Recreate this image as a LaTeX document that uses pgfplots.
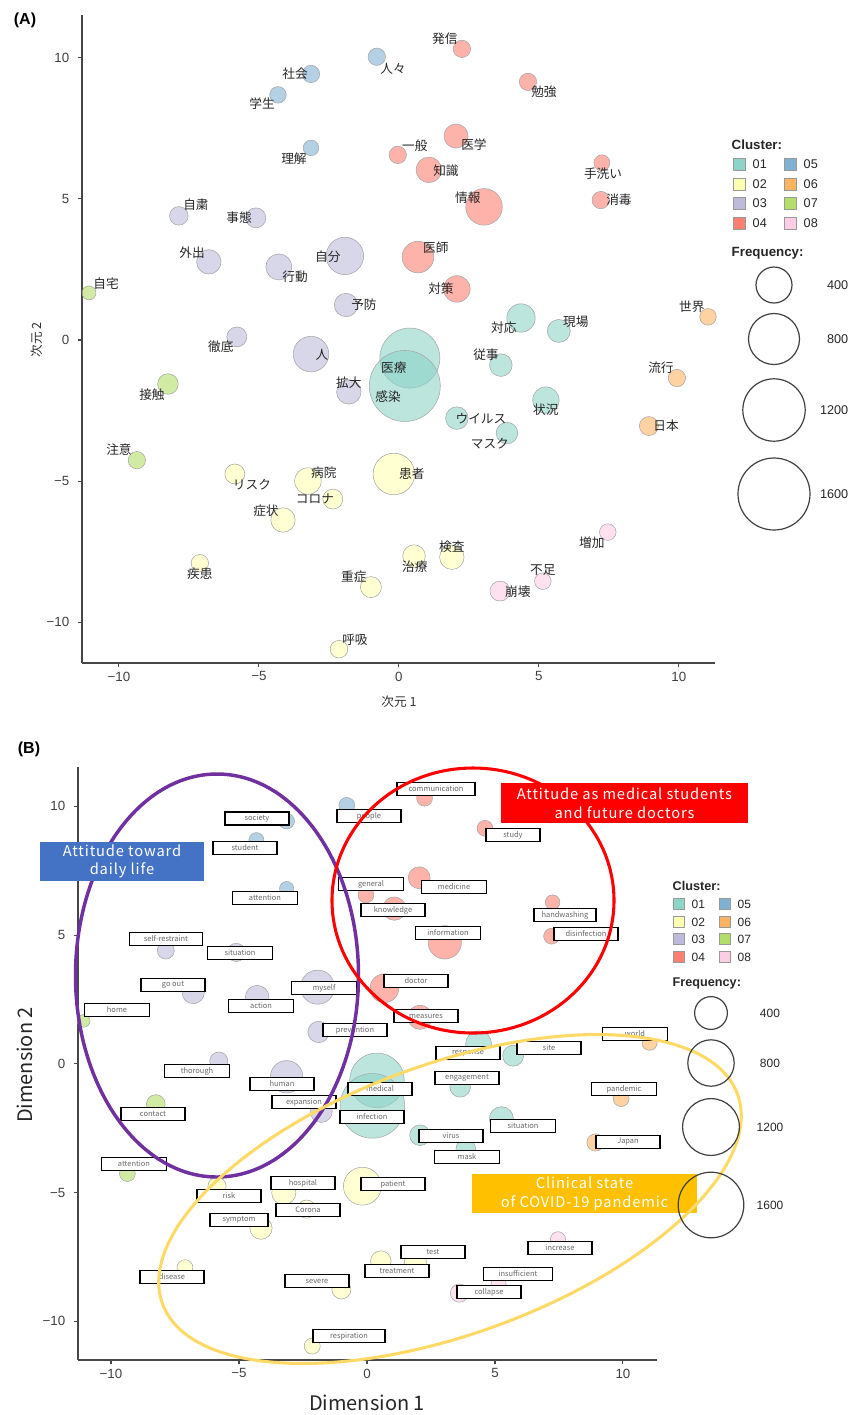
\documentclass[border=0pt]{standalone}
\usepackage{pgfplots}
\pgfplotsset{compat=1.18}
\usepackage{pgfplotstable}
\usepackage{fontspec}
\setmainfont{Liberation Sans}
\newfontfamily\jp{Noto Sans CJK JP}
\newfontfamily\jpw[LetterSpace=6]{Noto Sans CJK JP}
\definecolor{c1}{HTML}{8DD3C7}
\definecolor{c2}{HTML}{FFFFB3}
\definecolor{c3}{HTML}{BEBADA}
\definecolor{c4}{HTML}{FB8072}
\definecolor{c5}{HTML}{80B1D3}
\definecolor{c6}{HTML}{FDB462}
\definecolor{c7}{HTML}{B3DE69}
\definecolor{c8}{HTML}{FCCDE5}
\definecolor{epurple}{HTML}{7030A0}
\definecolor{eyellow}{HTML}{FFD966}
\definecolor{bblue}{HTML}{4472C4}
\definecolor{bgold}{HTML}{FFC000}

% cluster tables: x y frequency
\pgfplotstableread{
x y f
0.39 -0.64 1111
0.21 -1.63 1556
4.36 0.78 249
5.71 0.32 163
3.64 -0.89 158
5.25 -2.13 215
2.07 -2.77 158
3.86 -3.30 144
}\clusterA
\pgfplotstableread{
x y f
-5.86 -4.75 123
-3.25 -5.00 218
-2.36 -5.64 123
-4.14 -6.38 184
-0.18 -4.75 534
-7.11 -7.91 93
0.54 -7.66 158
-1.00 -8.76 136
-2.14 -10.96 96
1.89 -7.70 184
}\clusterB
\pgfplotstableread{
x y f
-7.86 4.40 107
-5.11 4.33 123
-6.79 2.77 184
-4.29 2.59 209
-1.93 2.98 432
-1.89 1.24 169
-5.79 0.11 123
-3.14 -0.50 391
-1.79 -1.84 184
}\clusterC
\pgfplotstableread{
x y f
2.25 10.32 93
4.61 9.15 93
2.04 7.23 178
-0.04 6.56 93
1.07 6.03 202
3.04 4.72 413
7.25 6.28 79
7.21 4.96 93
0.68 2.94 308
2.07 1.81 218
}\clusterD
\pgfplotstableread{
x y f
-0.79 10.04 93
-3.14 9.43 93
-4.32 8.69 85
-3.14 6.81 75
}\clusterE
\pgfplotstableread{
x y f
11.04 0.82 85
9.93 -1.35 93
8.93 -3.05 111
}\clusterF
\pgfplotstableread{
x y f
-11.07 1.67 60
-8.25 -1.56 131
-9.36 -4.26 93
}\clusterG
\pgfplotstableread{
x y f
7.46 -6.81 85
5.14 -8.55 85
3.61 -8.90 123
}\clusterH

\newcommand{\bubbles}[3]{%
  \addplot[scatter, only marks, mark=*,
    scatter/use mapped color={draw=black!35, fill=#2, fill opacity=0.6},
    visualization depends on={#3*sqrt(\thisrow{f}) \as \rad},
    scatter/@pre marker code/.append style={/tikz/mark size=\rad}]
    table {#1};}
\newcommand{\allbubbles}[1]{%
  \bubbles{\clusterA}{c1}{#1}
  \bubbles{\clusterB}{c2}{#1}
  \bubbles{\clusterC}{c3}{#1}
  \bubbles{\clusterD}{c4}{#1}
  \bubbles{\clusterE}{c5}{#1}
  \bubbles{\clusterF}{c6}{#1}
  \bubbles{\clusterG}{c7}{#1}
  \bubbles{\clusterH}{c8}{#1}}
\newcommand{\jl}[3]{\node[jl] at (axis cs:#1,#2) {#3};}
\newcommand{\wbox}[4]{\node[bx, minimum width=#3*0.75pt] at (#1,-#2) {#4};}

\pgfplotsset{myaxis/.style={
  scale only axis, clip=false,
  axis lines*=left,
  axis line style={draw=black!72, line width=1.4pt},
  xtick={-10,-5,0,5,10}, xticklabels={−10,−5,0,5,10},
  ytick={-10,-5,0,5,10}, yticklabels={−10,−5,0,5,10},
  tick align=outside, major tick length=3pt,
  tick style={draw=black!72, line width=0.8pt},
  tick label style={font=\fontsize{10}{12}\selectfont, text=black!75},
  yticklabel style={xshift=-3pt},
}}

\begin{document}
\begin{tikzpicture}[x=0.75pt,y=0.75pt,
  jl/.style={font=\jp\fontsize{9.5}{11}\selectfont, inner sep=0pt, text=black!85},
  bx/.style={draw=black, line width=0.9pt, fill=white, minimum height=9.8pt, inner sep=0pt,
     font=\jp\fontsize{5.6}{6}\selectfont, text=black!60}]

% ================= Panel A =================
\begin{axis}[myaxis, set layers,
  at={(61.5pt,-497.25pt)}, anchor=south west,
  width=474.75pt, height=486pt,
  xmin=-11.32, xmax=11.29, ymin=-11.45, ymax=11.52]
\allbubbles{0.675}
\begin{pgfonlayer}{axis foreground}
\jl{-0.21}{9.61}{人々}
\jl{-3.71}{9.43}{社会}
\jl{-4.89}{8.37}{学生}
\jl{-3.75}{6.42}{理解}
\jl{0.57}{6.88}{一般}
\jl{-7.25}{4.79}{自粛}
\jl{-5.71}{4.33}{事態}
\jl{-7.39}{3.09}{外出}
\jl{-2.54}{2.94}{自分}
\jl{-3.71}{2.23}{行動}
\jl{-1.25}{1.24}{予防}
\jl{-10.46}{1.99}{自宅}
\jl{-6.36}{-0.25}{徹底}
\jl{-2.75}{-0.53}{人}
\jl{-0.18}{-0.99}{医療}
\jl{-0.39}{-2.02}{感染}
\jl{-1.79}{-1.52}{拡大}
\jl{-8.82}{-1.95}{接触}
\jl{-10.0}{-3.90}{注意}
\jl{-5.25}{-5.14}{リスク}
\jl{-2.68}{-4.72}{病院}
\jl{-3.0}{-5.64}{コロナ}
\jl{-4.75}{-6.06}{症状}
\jl{0.46}{-4.75}{患者}
\jl{-7.11}{-8.30}{疾患}
\jl{0.57}{-8.05}{治療}
\jl{-1.61}{-8.40}{重症}
\jl{-1.57}{-10.64}{呼吸}
\jl{1.64}{10.67}{発信}
\jl{5.18}{8.79}{勉強}
\jl{2.68}{6.91}{医学}
\jl{1.68}{5.99}{知識}
\jl{2.46}{5.04}{情報}
\jl{7.29}{5.89}{手洗い}
\jl{7.86}{4.96}{消毒}
\jl{1.32}{3.26}{医師}
\jl{1.50}{1.81}{対策}
\jl{3.75}{0.43}{対応}
\jl{6.32}{0.64}{現場}
\jl{10.46}{1.17}{世界}
\jl{3.11}{-0.53}{従事}
\jl{5.25}{-2.48}{状況}
\jl{2.93}{-2.80}{ウイルス}
\jl{3.25}{-3.69}{マスク}
\jl{9.36}{-0.99}{流行}
\jl{9.54}{-3.05}{日本}
\jl{6.89}{-7.20}{増加}
\jl{1.89}{-7.34}{検査}
\jl{5.14}{-8.16}{不足}
\jl{4.25}{-8.94}{崩壊}
\end{pgfonlayer}
\end{axis}

% axis titles A
\node[font=\jp\fontsize{9.5}{11}\selectfont, text=black!80] at (399,-702) {次元 1};
\node[font=\jp\fontsize{9.5}{11}\selectfont, text=black!80, rotate=90] at (37,-340) {次元 2};
\node[font=\bfseries\fontsize{12}{14}\selectfont] at (25,-20) {(A)};

% legend A
\node[anchor=west, font=\bfseries\fontsize{10}{12}\selectfont, text=black!85] at (727,-145) {Cluster:};
\foreach \c/\lab/\xx/\yy in {c1/01/733/164, c2/02/733/184, c3/03/733/203, c4/04/733/223,
                             c5/05/784/164, c6/06/784/184, c7/07/784/203, c8/08/784/223}{
  \draw[fill=\c, draw=black!40, line width=0.6pt] (\xx,-\yy+6) rectangle (\xx+12,-\yy-6);
  \node[anchor=west, font=\fontsize{9.5}{11}\selectfont, text=black!85] at (\xx+15,-\yy) {\lab};
}
\node[anchor=west, font=\bfseries\fontsize{10}{12}\selectfont, text=black!85] at (727,-253) {Frequency:};
\foreach \r/\yy/\lab in {18/285/400, 25.5/339/800, 31.2/410/1200, 36/494/1600}{
  \draw[black!75, line width=0.9pt] (774,-\yy) circle (\r);
  \node[anchor=east, font=\fontsize{9.5}{11}\selectfont, text=black!85] at (853,-\yy) {\lab};
}

% ================= Panel B =================
\begin{axis}[myaxis,
  at={(58.5pt,-1020pt)}, anchor=south west,
  width=434.25pt, height=444.75pt,
  xmin=-11.29, xmax=11.33, ymin=-11.50, ymax=11.53]
\allbubbles{0.615}
\end{axis}

% word boxes
\wbox{257}{818.5}{64}{society}
\wbox{245}{848}{64}{student}
\wbox{265}{898}{65}{attention}
\wbox{166}{939}{73}{self-restraint}
\wbox{240}{953}{65}{situation}
\wbox{173}{985}{64}{go out}
\wbox{117}{1010}{65}{home}
\wbox{324}{988}{65}{myself}
\wbox{261}{1006}{65}{action}
\wbox{355}{1030}{64}{prevention}
\wbox{369}{816}{64}{people}
\wbox{371}{884}{65}{general}
\wbox{393}{910}{64}{knowledge}
\wbox{197}{1071}{65}{thorough}
\wbox{436}{789}{78}{communication}
\wbox{513}{835}{54}{study}
\wbox{454}{887}{65}{medicine}
\wbox{565}{915}{62}{handwashing}
\wbox{586}{934}{64}{disinfection}
\wbox{448}{933}{65}{information}
\wbox{416}{981}{64}{doctor}
\wbox{426}{1016}{64}{measures}
\wbox{635}{1034}{65}{world}
\wbox{468}{1053}{64}{response}
\wbox{549}{1048}{64}{site}
\wbox{467}{1078}{64}{engagement}
\wbox{624}{1089}{65}{pandemic}
\wbox{380}{1089}{64}{medical}
\wbox{282}{1084}{64}{human}
\wbox{304}{1102}{64}{expansion}
\wbox{372}{1117}{64}{infection}
\wbox{153}{1114}{64}{contact}
\wbox{134}{1164}{65}{attention}
\wbox{303}{1183}{64}{hospital}
\wbox{393}{1184}{64}{patient}
\wbox{229}{1196}{64}{risk}
\wbox{308}{1210}{64}{Corona}
\wbox{239}{1220}{58}{symptom}
\wbox{172}{1277}{64}{disease}
\wbox{317}{1281}{64}{severe}
\wbox{397}{1271}{64}{treatment}
\wbox{349}{1336}{72}{respiration}
\wbox{433}{1252}{64}{test}
\wbox{451}{1136}{64}{virus}
\wbox{467}{1157}{65}{mask}
\wbox{523}{1126}{65}{situation}
\wbox{628}{1142}{64}{Japan}
\wbox{560}{1248}{64}{increase}
\wbox{518}{1274}{69}{insufficient}
\wbox{489}{1292}{64}{collapse}

% gold annotation box
\fill[bgold] (472,-1174) rectangle (697,-1213);
\node[align=center, text=white, font=\jpw\fontsize{11}{14}\selectfont] at (584.5,-1193.5) {Clinical state\\of COVID-19 pandemic};

% ellipses
\draw[epurple, line width=2.6pt] (217,-975.5) ellipse [x radius=141.5, y radius=201.5];
\draw[red, line width=2.3pt] (473,-900.5) ellipse [x radius=141, y radius=132.5];
\draw[eyellow, line width=2.3pt, rotate around={20:(450,-1199)}] (450,-1199) ellipse [x radius=306, y radius=135];

% blue and red annotation boxes
\fill[bblue] (40,-842) rectangle (204,-881);
\node[align=center, text=white, font=\jpw\fontsize{11}{14}\selectfont] at (122,-861.5) {Attitude toward\\daily life};
\fill[red] (501,-783) rectangle (748,-823);
\node[align=center, text=white, font=\jpw\fontsize{11}{14}\selectfont] at (624.5,-803) {Attitude as medical students\\and future doctors};

% axis titles B
\node[font=\jp\fontsize{15}{18}\selectfont, text=black!85] at (367,-1403) {Dimension 1};
\node[font=\jp\fontsize{15}{18}\selectfont, text=black!85, rotate=90] at (25,-1065) {Dimension 2};
\node[font=\bfseries\fontsize{12}{14}\selectfont] at (29,-749) {(B)};

% legend B
\node[anchor=west, font=\bfseries\fontsize{9.5}{12}\selectfont, text=black!85] at (668,-886) {Cluster:};
\foreach \c/\lab/\xx/\yy in {c1/01/673/904, c2/02/673/922, c3/03/673/939, c4/04/673/957,
                             c5/05/719/904, c6/06/719/922, c7/07/719/939, c8/08/719/957}{
  \draw[fill=\c, draw=black!40, line width=0.6pt] (\xx,-\yy+5.5) rectangle (\xx+11,-\yy-5.5);
  \node[anchor=west, font=\fontsize{9}{11}\selectfont, text=black!85] at (\xx+14,-\yy) {\lab};
}
\node[anchor=west, font=\bfseries\fontsize{9.5}{12}\selectfont, text=black!85] at (668,-983) {Frequency:};
\foreach \r/\yy/\lab in {16.4/1013/400, 23.2/1063/800, 28.4/1127/1200, 32.8/1205/1600}{
  \draw[black!75, line width=0.9pt] (711,-\yy) circle (\r);
  \node[font=\fontsize{9}{11}\selectfont, text=black!85] at (770,-\yy) {\lab};
}

\pgfresetboundingbox
\useasboundingbox (0,0) rectangle (854,-1415);
\end{tikzpicture}
\end{document}
